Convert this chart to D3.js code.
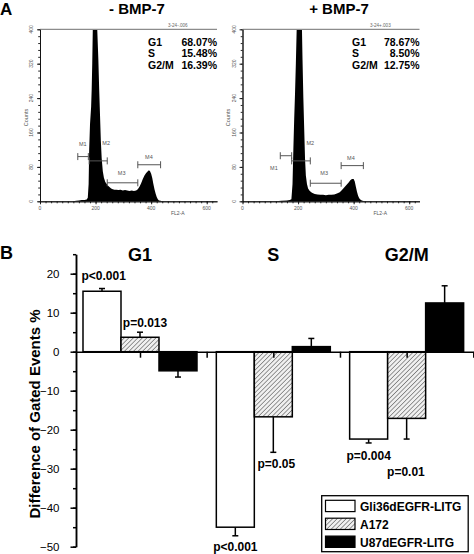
<!DOCTYPE html>
<html><head><meta charset="utf-8">
<script src="https://cdn.jsdelivr.net/npm/d3@7"></script>
<style>body{margin:0;background:#fff}svg{display:block;font-family:"Liberation Sans",Arial,Helvetica,sans-serif}</style>
</head><body><svg id="c" width="474" height="554"></svg>
<script>
// ---------- Panel A data ----------
const channelsMinus = [120,130,140,150,160,168,172,175,177,180,184,186,188,190,194,198,202,206,210,213,216,219,222,226,230,235,240,245,250,256,262,268,275,282,290,298,306,314,322,330,338,346,352,358,364,370,376,382,388,392,396,400,404,408,412,416,420,424,428,434,440];
const countsMinus   = [0,1,2,3,3,4,8,40,120,180,220,260,320,420,500,520,480,420,330,260,200,140,100,70,55,45,40,36,33,30,28,27,27,26,27,25,26,25,24,25,24,25,28,34,42,52,60,66,70,72,70,64,54,40,28,18,10,5,2,1,0];
const channelsPlus  = [120,140,160,170,176,180,183,186,189,192,195,199,203,207,211,214,216,219,222,225,228,232,236,242,250,260,270,280,290,300,310,320,330,340,350,358,366,374,382,388,394,400,404,408,412,416,420,426,432,440];
const countsPlus    = [0,1,2,3,5,40,120,190,250,320,420,520,560,520,470,410,330,240,170,100,60,40,30,24,20,17,16,15,15,14,15,15,16,18,21,26,32,38,44,49,52,52,46,34,22,13,7,3,1,0];
const histXTicks = [0,200,400,600];
const histYTicks = [0,80,160,240,320,400];
const statNames = ["G1","S","G2/M"];
const statsMinus = ["68.07%","15.48%","16.39%"];
const statsPlus  = ["78.67%","8.50%","12.75%"];
const markerNames = ["M1","M2","M3","M4"];
const markersMinusLo = [136,177,242,352];
const markersMinusHi = [174,242,352,434];
const markersMinusLevel = [104,94,43,85];
const markersMinusLabelX = [154,238,294,392];
const markersMinusLabelY = [133,136,66,104];
const markersPlusLo = [136,177,244,355];
const markersPlusHi = [177,244,355,435];
const markersPlusLevel = [106,94,42,83];
const markersPlusLabelX = [113,244,294,390];
const markersPlusLabelY = [78,136,65,101];

// ---------- Panel B data ----------
const phases = ["G1","S","G2/M"];
const cellLines = ["Gli36dEGFR-LITG","A172","U87dEGFR-LITG"];
const gli36Values = [15.5,-45.0,-22.4];
const gli36Errors = [0.7,2.2,1.0];
const a172Values  = [3.7,-16.7,-17.1];
const a172Errors  = [1.3,9.1,5.3];
const u87Values   = [-4.9,1.3,12.5];
const u87Errors   = [1.6,2.1,4.4];
const yTicksB = [-50,-40,-30,-20,-10,0,10,20];
const pTexts  = ["p<0.001","p=0.013","p<0.001","p=0.05","p=0.004","p=0.01"];
const pPhase  = [0,0,1,1,2,2];
const pLine   = [0,1,0,1,0,1];

const svg = d3.select("#c");

// ================= Panel A =================
svg.append("text").attr("x",0).attr("y",14.5).attr("font-size",17).attr("font-weight","bold").text("A");

function histPanel(o){
  const g = svg.append("g");
  const x = d3.scaleLinear().domain([0,637]).range([o.left,o.left+177]);
  const y = d3.scaleLinear().domain([0,400]).range([201.3,29.3]).clamp(true);
  const pts = o.channels.map((c,i)=>[c,o.counts[i]]);
  g.append("path").datum(pts)
    .attr("d", d3.area().x(d=>x(d[0])).y0(y(0)).y1(d=>y(d[1])))
    .attr("fill","#000");
  g.append("line").attr("x1",x(0)).attr("x2",x(637)).attr("y1",y(400)).attr("y2",y(400))
    .attr("stroke","#8c8c8c").attr("stroke-width",1.3);
  const xa1 = g.append("g").attr("transform",`translate(0,${y(0)})`)
    .call(d3.axisBottom(x).tickValues(d3.range(0,637,20)).tickSize(2).tickSizeOuter(0).tickFormat(""));
  const xa2 = g.append("g").attr("transform",`translate(0,${y(0)})`)
    .call(d3.axisBottom(x).tickValues(histXTicks).tickSize(3).tickSizeOuter(0).tickFormat(""));
  const ya1 = g.append("g").attr("transform",`translate(${x(0)},0)`)
    .call(d3.axisLeft(y).tickValues(d3.range(0,401,16)).tickSize(1.8).tickSizeOuter(0).tickFormat(""));
  const ya2 = g.append("g").attr("transform",`translate(${x(0)},0)`)
    .call(d3.axisLeft(y).tickValues(histYTicks).tickSize(3).tickSizeOuter(0).tickFormat(""));
  [xa1,xa2,ya1,ya2].forEach(a=>{a.selectAll("line,path").attr("stroke","#111").attr("stroke-width",0.9);});
  g.selectAll(".xl").data(histXTicks).enter().append("text")
    .attr("x",d=>x(d)).attr("y",210).attr("text-anchor","middle")
    .attr("font-size",5).attr("fill","#555").text(d=>d);
  g.selectAll(".yl").data(histYTicks).enter().append("text")
    .attr("transform",d=>`translate(${x(0)-7},${y(d)}) rotate(-90)`)
    .attr("text-anchor","middle").attr("font-size",5).attr("fill","#555").text(d=>d);
  g.append("text").attr("transform",`translate(${x(0)-12.5},${y(195)}) rotate(-90)`)
    .attr("text-anchor","middle").attr("font-size",5.5).attr("fill","#555").text("Counts");
  g.append("text").attr("x",x(496)).attr("y",215).attr("text-anchor","middle")
    .attr("font-size",5).attr("fill","#555").text("FL2-A");
  g.append("text").attr("x",x(496)).attr("y",26.5).attr("text-anchor","middle")
    .attr("font-size",4.6).attr("fill","#666").text(o.file);
  g.append("text").attr("x",o.titleX).attr("y",14).attr("text-anchor","middle")
    .attr("font-size",15).attr("font-weight","bold").text(o.title);
  statNames.forEach((n,i)=>{
    g.append("text").attr("x",o.statX).attr("y",45.5+i*11.6).attr("font-size",10.5).attr("font-weight","bold").text(n);
    g.append("text").attr("x",x(637)).attr("y",45.5+i*11.6).attr("text-anchor","end").attr("font-size",10.5).attr("font-weight","bold").text(o.stats[i]);
  });
  markerNames.forEach((m,i)=>{
    const yy = y(o.mLevel[i]);
    const mg = g.append("g").attr("stroke","#555").attr("stroke-width",1);
    mg.append("line").attr("x1",x(o.mLo[i])).attr("x2",x(o.mHi[i])).attr("y1",yy).attr("y2",yy);
    mg.append("line").attr("x1",x(o.mLo[i])).attr("x2",x(o.mLo[i])).attr("y1",yy-3.5).attr("y2",yy+3.5);
    mg.append("line").attr("x1",x(o.mHi[i])).attr("x2",x(o.mHi[i])).attr("y1",yy-3.5).attr("y2",yy+3.5);
    g.append("text").attr("x",x(o.mLX[i])).attr("y",y(o.mLY[i])+2).attr("text-anchor","middle")
      .attr("font-size",5.5).attr("fill","#555").text(m);
  });
}
histPanel({left:40, channels:channelsMinus, counts:countsMinus, title:"- BMP-7", titleX:137,
  file:"3-24-.006", stats:statsMinus, statX:148,
  mLo:markersMinusLo, mHi:markersMinusHi, mLevel:markersMinusLevel, mLX:markersMinusLabelX, mLY:markersMinusLabelY});
histPanel({left:242.5, channels:channelsPlus, counts:countsPlus, title:"+ BMP-7", titleX:339,
  file:"3-24+.003", stats:statsPlus, statX:352,
  mLo:markersPlusLo, mHi:markersPlusHi, mLevel:markersPlusLevel, mLX:markersPlusLabelX, mLY:markersPlusLabelY});

// ================= Panel B =================
svg.append("text").attr("x",0).attr("y",258.5).attr("font-size",18).attr("font-weight","bold").text("B");

const defs = svg.append("defs");
const pat = defs.append("pattern").attr("id","hatch").attr("patternUnits","userSpaceOnUse")
  .attr("width",3.2).attr("height",3.2).attr("patternTransform","rotate(45)");
pat.append("rect").attr("width",3.2).attr("height",3.2).attr("fill","#f0f0f0");
pat.append("line").attr("x1",0).attr("y1",0).attr("x2",0).attr("y2",3.2).attr("stroke","#5e5e5e").attr("stroke-width",1.25);

const xB = d3.scaleLinear().domain([0.52,3.5]).range([76,473.3]);
const yB = d3.scaleLinear().domain([-50,25]).range([546.7,254.2]);
const barW = xB(1.285)-xB(1);
const fills = ["#fff","url(#hatch)","#000"];
const series = [
  {vals:gli36Values, errs:gli36Errors},
  {vals:a172Values, errs:a172Errors},
  {vals:u87Values, errs:u87Errors}
];
const bars = [];
series.forEach((s,si)=>s.vals.forEach((v,pi)=>bars.push({si,pi,v,e:s.errs[pi]})));
const barCx = d=>xB(d.pi+1)+(d.si-1)*barW;

const gB = svg.append("g");
bars.forEach(d=>{
  const cx = barCx(d);
  const tip = d.v>=0 ? d.v+d.e : d.v-d.e;
  gB.append("line").attr("x1",cx).attr("x2",cx).attr("y1",yB(d.v)).attr("y2",yB(tip))
    .attr("stroke","#000").attr("stroke-width",1.5);
  gB.append("line").attr("x1",cx-3).attr("x2",cx+3).attr("y1",yB(tip)).attr("y2",yB(tip))
    .attr("stroke","#000").attr("stroke-width",1.5);
});
gB.selectAll(".bar").data(bars).enter().append("rect")
  .attr("x",d=>barCx(d)-barW/2).attr("width",barW)
  .attr("y",d=>yB(Math.max(0,d.v))).attr("height",d=>Math.abs(yB(d.v)-yB(0)))
  .attr("fill",d=>fills[d.si]).attr("stroke","#000").attr("stroke-width",1.5);

const yaMinor = gB.append("g").attr("transform","translate(76,0)")
  .call(d3.axisLeft(yB).tickValues(d3.range(-50,26,5)).tickSize(3).tickSizeOuter(0).tickFormat(""));
const yaMajor = gB.append("g").attr("transform","translate(76,0)")
  .call(d3.axisLeft(yB).tickValues(yTicksB).tickSize(5.5).tickSizeOuter(0).tickPadding(11));
[yaMinor,yaMajor].forEach(a=>a.selectAll("line,path").attr("stroke","#000").attr("stroke-width",1.5));
yaMajor.selectAll("text").attr("font-size",11.5).attr("fill","#000").attr("font-family",'"Liberation Sans",Arial,sans-serif');
const xa = gB.append("g").attr("transform",`translate(0,${yB(0)})`)
  .call(d3.axisBottom(xB).tickValues([1,1.5,2,2.5,3,3.5]).tickSize(6).tickSizeOuter(0).tickFormat(""));
xa.selectAll("line,path").attr("stroke","#000").attr("stroke-width",1.5);

gB.append("text").attr("transform","translate(39.5,414) rotate(-90)").attr("text-anchor","middle")
  .attr("font-size",15).attr("font-weight","bold").text("Difference of Gated Events %");

phases.forEach((p,i)=>{
  gB.append("text").attr("x",xB(i+1)).attr("y",261).attr("text-anchor","middle")
    .attr("font-size",18).attr("font-weight","bold").text(p);
});

const pDx = [1.7,5,0,3,0,-0.7];
const pDy = [-8.3,-5.5,15,15.5,16.7,36.6];
pTexts.forEach((t,i)=>{
  const d = bars.find(b=>b.pi===pPhase[i] && b.si===pLine[i]);
  const tip = d.v>=0 ? d.v+d.e : d.v-d.e;
  gB.append("text").attr("x",barCx(d)+pDx[i]).attr("y",yB(tip)+pDy[i]).attr("text-anchor","middle")
    .attr("font-size",12).attr("font-weight","bold").text(t);
});

const lg = svg.append("g");
lg.append("rect").attr("x",321.7).attr("y",495.7).attr("width",146.5).attr("height",56)
  .attr("fill","#fff").attr("stroke","#000").attr("stroke-width",1.3);
cellLines.forEach((c,i)=>{
  lg.append("rect").attr("x",325.5).attr("y",500.3+i*17.9).attr("width",29.5).attr("height",11.3)
    .attr("fill",fills[i]).attr("stroke","#000").attr("stroke-width",1.2);
  lg.append("text").attr("x",360).attr("y",510.8+i*17.9).attr("font-size",12).attr("font-weight","bold").text(c);
});
</script></body></html>
